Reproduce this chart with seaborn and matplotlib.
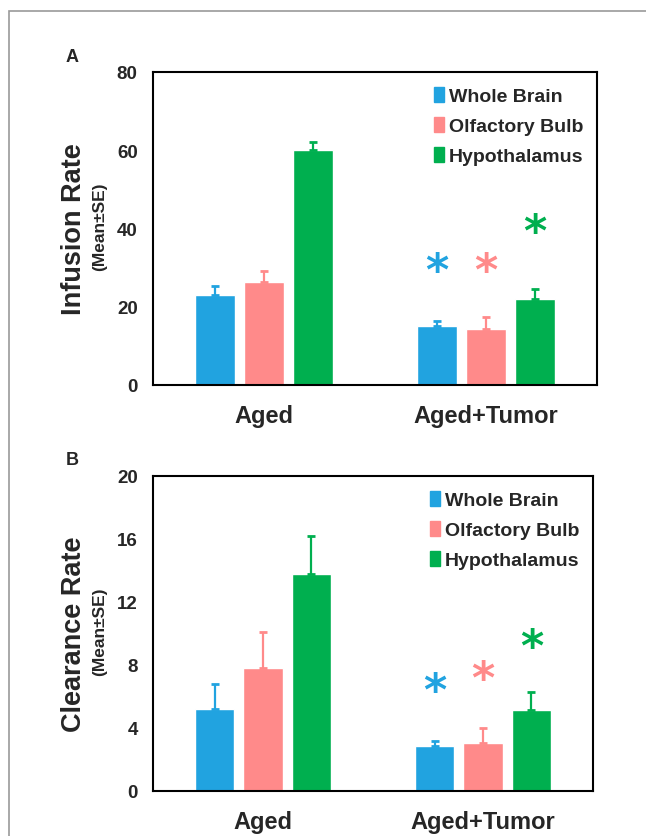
import pandas as pd
import numpy as np
import matplotlib.pyplot as plt
import matplotlib.patches as mpatches
import seaborn as sns

groups = ['Aged', 'Aged+Tumor']
regions = ['Whole Brain', 'Olfactory Bulb', 'Hypothalamus']
colors = ['#21A3E0', '#FF8A8A', '#00AF4F']

infusion_mean = [[23.0, 26.3, 60.0], [15.2, 14.2, 21.9]]
infusion_se = [[2.2, 2.9, 2.2], [1.1, 3.1, 2.7]]
infusion_star = [29.0, 29.0, 39.0]

clearance_mean = [[5.2, 7.8, 13.8], [2.85, 3.05, 5.15]]
clearance_se = [[1.6, 2.3, 2.4], [0.35, 0.95, 1.15]]
clearance_star = [6.3, 7.1, 9.1]

sns.set_style('white')
plt.rcParams['font.family'] = ['Liberation Sans', 'DejaVu Sans']
plt.rcParams['font.weight'] = 'bold'

W, H = 646, 837


def make_df(means):
    rows = []
    for g, vals in zip(groups, means):
        for r, v in zip(regions, vals):
            rows.append({'group': g, 'region': r, 'value': v})
    return pd.DataFrame(rows)


def draw_panel(fig, rect, means, ses, stars, ymax, yticks, ylabel, letter):
    ax = fig.add_axes(rect)
    df = make_df(means)
    sns.barplot(data=df, x='group', y='value', hue='region', hue_order=regions,
                palette=colors, errorbar=None, width=0.66, gap=0.18,
                saturation=1, ax=ax)
    # bars in seaborn order: hue by hue, each over groups
    bars = ax.patches[:len(groups) * len(regions)]
    for k, r in enumerate(regions):
        for i, g in enumerate(groups):
            b = bars[k * len(groups) + i]
            xc = b.get_x() + b.get_width() / 2
            ax.errorbar(xc, means[i][k], yerr=[[0], [ses[i][k]]], fmt='none',
                        ecolor=colors[k], elinewidth=1.6, capsize=2.6, capthick=2)
            if i == 1:
                ax.text(xc, stars[k], '*', color=colors[k], fontsize=32,
                        fontweight='bold', ha='center', va='center',
                        family=['DejaVu Sans'])
    ax.set_ylim(0, ymax)
    ax.set_xlim(-0.5, 1.5)
    ax.set_yticks(yticks)
    ax.tick_params(axis='y', direction='in', length=4, width=1, labelsize=13.5, pad=11)
    ax.tick_params(axis='x', length=0, labelsize=17, pad=14)
    for lab in ax.get_yticklabels() + ax.get_xticklabels():
        lab.set_fontweight('bold')
    for s in ax.spines.values():
        s.set_linewidth(1.5)
        s.set_color('black')
    ax.set_xlabel('')
    ax.set_ylabel('')
    handles = [mpatches.Patch(color=c, label=r) for c, r in zip(colors, regions)]
    ax.legend(handles=handles, loc='upper right', frameon=False,
              prop={'weight': 'bold', 'size': 14}, handlelength=0.5,
              handleheight=0.8, handletextpad=0.25, labelspacing=0.6,
              borderaxespad=0.3, bbox_to_anchor=(1.0, 0.995))
    y0 = rect[1] + rect[3] / 2
    fig.text(74 / W, y0, ylabel, rotation=90, ha='center', va='center',
             fontsize=19.5, fontweight='bold')
    fig.text(100 / W, y0 + 3 / H, '(Mean\u00b1SE)', rotation=90, ha='center', va='center',
             fontsize=12.5, fontweight='bold')
    fig.text(72 / W, rect[1] + rect[3] + 16 / H, letter, ha='center', va='center',
             fontsize=13, fontweight='bold')
    return ax


fig = plt.figure(figsize=(W / 100, H / 100), dpi=100)
fig.patch.set_facecolor('white')
fig.add_artist(mpatches.Rectangle((9 / W, -0.1), 1.2, (H - 12) / H + 0.1,
                                  transform=fig.transFigure, fill=False,
                                  edgecolor='#999999', linewidth=1.2))

draw_panel(fig, [153 / W, (H - 386) / H, 444 / W, 313 / H],
           infusion_mean, infusion_se, infusion_star, 80, [0, 20, 40, 60, 80],
           'Infusion Rate', 'A')
draw_panel(fig, [153 / W, (H - 792) / H, 440 / W, 315 / H],
           clearance_mean, clearance_se, clearance_star, 20, [0, 4, 8, 12, 16, 20],
           'Clearance Rate', 'B')

fig.savefig('out.png', dpi=100)
